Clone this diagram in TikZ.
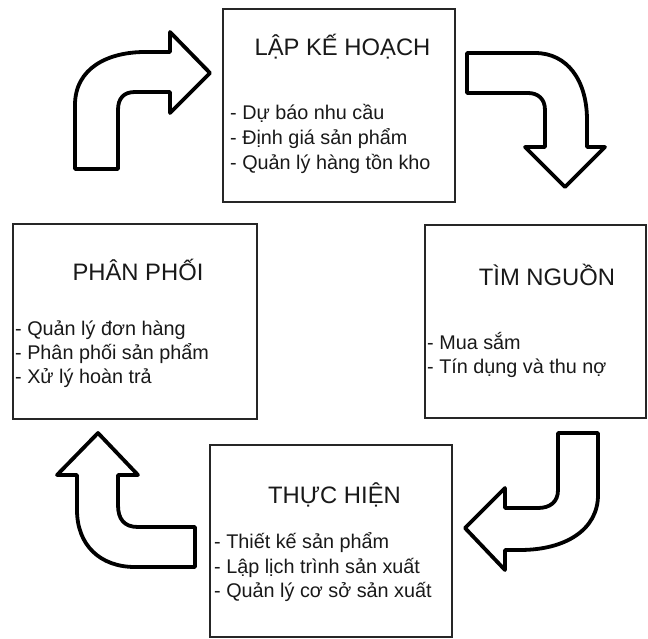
\documentclass[tikz,border=0pt]{standalone}
\usepackage{fontspec}
\setmainfont{Liberation Sans}
\begin{document}
\begin{tikzpicture}[x=1pt,y=-1pt,
  panel/.style={draw=black!85,line width=1.8pt,fill=white,inner sep=0pt},
  heading/.style={anchor=base,inner sep=0pt,text=black!90,font=\fontsize{23.8}{27}\selectfont},
  item/.style={anchor=base west,inner sep=0pt,text=black!90,font=\fontsize{19.8}{24}\selectfont},
  bentarrow/.style={draw=black,line width=3.8pt,line join=round,fill=white}]
\useasboundingbox (0,0) rectangle (648,639);

% the four stages
\node[panel,minimum width=232pt,minimum height=193pt] (plan) at (339,105.5) {};
\node[panel,minimum width=244pt,minimum height=195pt] (dist) at (135,321.5) {};
\node[panel,minimum width=221pt,minimum height=193pt] (src)  at (535.5,321.5) {};
\node[panel,minimum width=242pt,minimum height=192pt] (make) at (331,541) {};

% stage titles
\node[heading] (planT) at (342.5,56) {LẬP KẾ HOẠCH};
\node[heading] (distT) at (138,280) {PHÂN PHỐI};
\node[heading] (srcT)  at (547,285) {TÌM NGUỒN};
\node[heading] (makeT) at (334.5,503) {THỰC HIỆN};

% stage tasks
\node[item] (plan1) at (230,120) {- Dự báo nhu cầu};
\node[item] (plan2) at (230,145) {- Định giá sản phẩm};
\node[item] (plan3) at (230,170) {- Quản lý hàng tồn kho};

\node[item] (dist1) at (15,335) {- Quản lý đơn hàng};
\node[item] (dist2) at (15,359) {- Phân phối sản phẩm};
\node[item] (dist3) at (15,383) {- Xử lý hoàn trả};

\node[item] (src1) at (427,349) {- Mua sắm};
\node[item] (src2) at (427,373) {- Tín dụng và thu nợ};

\node[item] (make1) at (214,548) {- Thiết kế sản phẩm};
\node[item] (make2) at (214,573) {- Lập lịch trình sản xuất};
\node[item] (make3) at (214,597) {- Quản lý cơ sở sản xuất};

% bent block arrows running clockwise round the cycle
\draw[bentarrow] (75,169) -- (75,105) .. controls (75,68) and (108,52) .. (145,52)
  -- (170,52) -- (170,32) -- (210,73) -- (170,113) -- (170,92) -- (135,92)
  .. controls (124,92) and (118,98) .. (118,110) -- (118,169) -- cycle;

\draw[bentarrow] (467,53) -- (535,53) .. controls (567,53) and (587,80) .. (587,120)
  -- (587,147) -- (605,147) -- (565,187) -- (525,147) -- (545,147) -- (545,110)
  .. controls (545,99) and (538,93) .. (528,93) -- (467,93) -- cycle;

\draw[bentarrow] (558,433) -- (598,433) -- (598,495) .. controls (598,530) and (565,550) .. (520,550)
  -- (505,550) -- (505,570) -- (465,528) -- (505,488) -- (505,508) -- (538,508)
  .. controls (550,508) and (558,502) .. (558,490) -- cycle;

\draw[bentarrow] (98,433) -- (138,475) -- (118,475) -- (118,505)
  .. controls (118,519) and (124,527) .. (138,527) -- (195,527) -- (195,567) -- (135,567)
  .. controls (100,567) and (77,545) .. (77,510) -- (77,475) -- (57,475) -- cycle;
\end{tikzpicture}
\end{document}
